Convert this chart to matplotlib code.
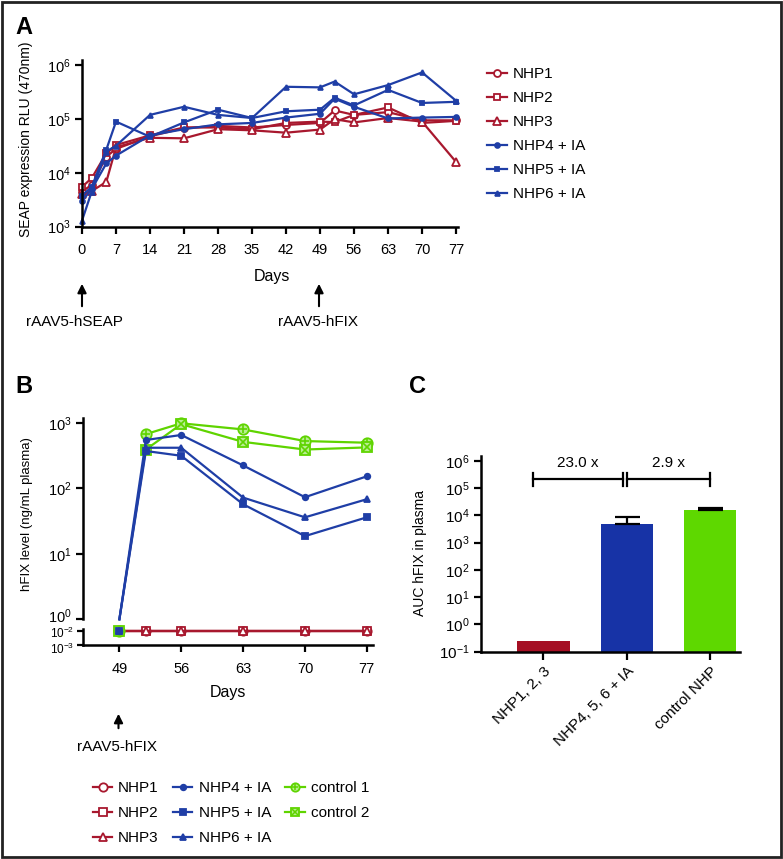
import matplotlib
matplotlib.use('Agg')
import matplotlib.pyplot as plt
import matplotlib.transforms as mtransforms
import numpy as np
from matplotlib.ticker import FixedLocator, NullLocator
from matplotlib.legend_handler import HandlerTuple
from matplotlib.patches import Rectangle

plt.rcParams['font.family'] = ['Liberation Sans', 'DejaVu Sans']
plt.rcParams['mathtext.fontset'] = 'custom'
plt.rcParams['mathtext.rm'] = 'Liberation Sans'
plt.rcParams['mathtext.it'] = 'Liberation Sans'

# ---- data: panel A (SEAP expression, RLU) ----
days_a = [0, 2, 5, 7, 14, 21, 28, 35, 42, 49, 52, 56, 63, 70, 77]
nhp1_a = [4.5e3, 6e3, 2e4, 2.8e4, 4.8e4, 6.8e4, 7.5e4, 7e4, 7.8e4, 8.5e4, 1.45e5, 1.2e5, 1.35e5, 9.5e4, 9.5e4]
nhp2_a = [5.5e3, 8e3, 2.3e4, 3.3e4, 5e4, 7e4, 7e4, 6.5e4, 8.5e4, 9e4, 8.8e4, 1.2e5, 1.65e5, 8.5e4, 9.3e4]
nhp3_a = [4e3, 4.6e3, 6.8e3, 3e4, 4.5e4, 4.4e4, 6.5e4, 6.2e4, 5.6e4, 6.4e4, 1e5, 8.7e4, 1.05e5, 9e4, 1.6e4]
nhp4_a = [3e3, 5e3, 1.5e4, 2.1e4, 5e4, 6.5e4, 8e4, 8.5e4, 1.07e5, 1.26e5, 2.4e5, 1.7e5, 1.03e5, 1.07e5, 1.1e5]
nhp5_a = [3.8e3, 5.5e3, 2.7e4, 9e4, 4.7e4, 8.7e4, 1.5e5, 1.05e5, 1.4e5, 1.5e5, 2.5e5, 1.8e5, 3.5e5, 2e5, 2.1e5]
nhp6_a = [1.3e3, 4.5e3, 2.5e4, 3.2e4, 1.2e5, 1.7e5, 1.2e5, 1.05e5, 4e5, 3.9e5, 5e5, 2.9e5, 4.3e5, 7.4e5, 2.2e5]

# ---- data: panel B (hFIX level, ng/mL) ----
days_b = [49, 52, 56, 63, 70, 77]
nhp1_b = [0.01, 0.01, 0.01, 0.01, 0.01, 0.01]
nhp2_b = [0.01, 0.01, 0.01, 0.01, 0.01, 0.01]
nhp3_b = [0.01, 0.01, 0.01, 0.01, 0.01, 0.01]
nhp4_b = [0.01, 545, 650, 223, 73, 152]
nhp5_b = [0.01, 370, 313, 57, 18.6, 36]
nhp6_b = [0.01, 415, 415, 72, 36, 68]
ctrl1_b = [0.01, 670, 980, 790, 525, 495]
ctrl2_b = [0.01, 390, 950, 510, 390, 420]

# ---- data: panel C (AUC) ----
groups_c = ['NHP1, 2, 3', 'NHP4, 5, 6 + IA', 'control NHP']
auc_c = [0.25, 4.8e3, 1.6e4]
auc_err_c = [0, 4.2e3, 2.5e3]
fold_c = ['23.0 x', '2.9 x']

RED = '#a8182e'
BLUE = '#1f3ea6'
GREEN = '#5fd400'
BAR_RED = '#a50f24'
BAR_BLUE = '#1733a6'
BAR_GREEN = '#5ed800'

W, H = 783, 859
fig = plt.figure(figsize=(W / 100, H / 100), dpi=100)


def box(l, t, r, b):
    return [l / W, 1 - b / H, (r - l) / W, (b - t) / H]


def fp(x, y):
    return (x / W, 1 - y / H)


def style_axes(ax, spines=('left', 'bottom')):
    for s in ['left', 'right', 'top', 'bottom']:
        ax.spines[s].set_visible(s in spines)
        ax.spines[s].set_linewidth(1.8)
    ax.tick_params(width=1.6, length=5, labelsize=10.5, pad=3)
    ax.yaxis.set_minor_locator(NullLocator())
    ax.patch.set_alpha(0)


# ---------------- Panel A ----------------
ax_a = fig.add_axes(box(82, 60, 458, 226.7))
series_a = [
    ('NHP1', nhp1_a, RED, 'o', 'white', 5),
    ('NHP2', nhp2_a, RED, 's', 'white', 5),
    ('NHP3', nhp3_a, RED, '^', 'white', 5.5),
    ('NHP4 + IA', nhp4_a, BLUE, 'o', BLUE, 3.5),
    ('NHP5 + IA', nhp5_a, BLUE, 's', BLUE, 3.5),
    ('NHP6 + IA', nhp6_a, BLUE, '^', BLUE, 3.5),
]
for name, vals, c, m, mfc, ms in series_a:
    ax_a.plot(days_a, vals, color=c, marker=m, mfc=mfc, mec=c, ms=ms, mew=1.3,
              lw=1.6, label=name, clip_on=False)
ax_a.set_yscale('log')
ax_a.set_ylim(1e3, 10 ** 6.1)
ax_a.set_xlim(0, 77.4)
ax_a.set_xticks(range(0, 78, 7))
ax_a.yaxis.set_major_locator(FixedLocator([1e3, 1e4, 1e5, 1e6]))
style_axes(ax_a)
ax_a.tick_params(axis='x', pad=7)
ax_a.legend(loc='upper left', bbox_to_anchor=fp(487, 67), bbox_transform=fig.transFigure,
            frameon=False, fontsize=11, borderpad=0, borderaxespad=0,
            handlelength=1.3, handletextpad=0.4, labelspacing=0.66)
fig.text(*fp(26, 139), 'SEAP expression RLU (470nm)', rotation=90, ha='center', va='center',
         fontsize=10)
fig.text(*fp(272, 277), 'Days', ha='center', va='center', fontsize=11.5)
for xa, xt, lab in [(82, 74, 'rAAV5-hSEAP'), (319, 318, 'rAAV5-hFIX')]:
    fig.add_artist(plt.Annotation('', xy=fp(xa, 281), xytext=fp(xa, 309), xycoords='figure fraction',
                                  arrowprops=dict(arrowstyle='-|>', color='black', lw=1.5,
                                                  mutation_scale=13)))
    fig.text(*fp(xt, 322), lab, ha='center', va='center', fontsize=11)

# ---------------- Panel B ----------------
ax_b = fig.add_axes(box(82.7, 418, 373, 619.3))
ax_b2 = fig.add_axes(box(82.7, 629, 373, 645))
series_b = [
    ('NHP1', nhp1_b, RED, 'o', 'white', 6, False),
    ('NHP2', nhp2_b, RED, 's', 'white', 6, False),
    ('NHP3', nhp3_b, RED, '^', 'white', 6, False),
    ('NHP4 + IA', nhp4_b, BLUE, 'o', BLUE, 4, True),
    ('NHP5 + IA', nhp5_b, BLUE, 's', BLUE, 4, True),
    ('NHP6 + IA', nhp6_b, BLUE, '^', BLUE, 4, True),
    ('control 1', ctrl1_b, GREEN, 'o', '#b8ee90', 7.5, False),
    ('control 2', ctrl2_b, GREEN, 's', '#b8ee90', 7.5, False),
]
floor_b = 1.0
handles_b = {}
draw_order = [0, 1, 2, 6, 7, 3, 4, 5]
for i in draw_order:
    name, vals, c, m, mfc, ms, from_floor = series_b[i]
    d = np.array(days_b, dtype=float)
    v = np.array(vals, dtype=float)
    hi = v >= floor_b
    lo = ~hi
    overlay = {'o': '+', 's': 'x'}.get(m) if name.startswith('control') else None
    # upper part (above the axis break)
    if hi.any():
        if from_floor:
            ax_b.plot(d, np.maximum(v, floor_b), color=c, lw=1.6, clip_on=False)
        else:
            ax_b.plot(d[hi], v[hi], color=c, lw=1.6, clip_on=False)
        ax_b.plot(d[hi], v[hi], ls='none', marker=m, mfc=mfc, mec=c, ms=ms, mew=1.3, clip_on=False)
        if overlay:
            ax_b.plot(d[hi], v[hi], ls='none', marker=overlay, mec=c, ms=ms * 0.8, mew=1.2, clip_on=False)
    # lower part (below the break)
    if lo.any():
        if lo.sum() > 1:
            ax_b2.plot(d[lo], v[lo], color=c, lw=1.6, clip_on=False)
        ax_b2.plot(d[lo], v[lo], ls='none', marker=m, mfc=mfc, mec=c, ms=ms, mew=1.3, clip_on=False)
    h1, = ax_b.plot([], [], color=c, lw=1.6, marker=m, mfc=mfc, mec=c, ms=min(ms, 6), mew=1.3)
    if overlay:
        h2, = ax_b.plot([], [], ls='none', marker=overlay, mec=c, ms=min(ms, 6) * 0.8, mew=1.1)
        handles_b[i] = (h1, h2)
    else:
        handles_b[i] = h1

for ax in (ax_b, ax_b2):
    ax.set_yscale('log')
    ax.set_xlim(44.85, 77.7)
ax_b.set_ylim(1, 10 ** 3.072)
ax_b2.set_ylim(1e-3, 10 ** -1.86)
ax_b.yaxis.set_major_locator(FixedLocator([1, 10, 100, 1000]))
ax_b2.yaxis.set_major_locator(FixedLocator([1e-3, 1e-2]))
style_axes(ax_b, spines=('left',))
style_axes(ax_b2)
ax_b.set_xticks([])
ax_b2.set_xticks(days_b[:1] + list(range(56, 78, 7)))
ax_b2.tick_params(axis='y', labelsize=8.5, length=4, pad=2)
ax_b2.tick_params(axis='x', pad=7)
# nudge the crowded labels around the axis break
fig.canvas.draw()
ax_b.get_yticklabels()[0].set_transform(
    ax_b.get_yticklabels()[0].get_transform() + mtransforms.ScaledTranslation(0, 3 / 72, fig.dpi_scale_trans))
for lbl, dy in zip(ax_b2.get_yticklabels(), [-2, -0.5]):
    lbl.set_transform(lbl.get_transform() + mtransforms.ScaledTranslation(0, dy / 72, fig.dpi_scale_trans))
fig.text(*fp(27, 514), 'hFIX level (ng/mL plasma)', rotation=90, ha='center', va='center',
         fontsize=9.5)
fig.text(*fp(228, 693), 'Days', ha='center', va='center', fontsize=11.5)
fig.add_artist(plt.Annotation('', xy=fp(118.5, 711), xytext=fp(118.5, 731), xycoords='figure fraction',
                              arrowprops=dict(arrowstyle='-|>', color='black', lw=1.5, mutation_scale=13)))
fig.text(*fp(117, 747), 'rAAV5-hFIX', ha='center', va='center', fontsize=11)

fig.legend([handles_b[i] for i in range(8)], [s[0] for s in series_b], ncol=3,
           loc='upper left', bbox_to_anchor=fp(93, 781), bbox_transform=fig.transFigure,
           frameon=False, fontsize=11, borderpad=0, borderaxespad=0,
           handlelength=1.25, handletextpad=0.4, labelspacing=0.72, columnspacing=0.95,
           handler_map={tuple: HandlerTuple(ndivide=1, pad=0)})

# ---------------- Panel C ----------------
ax_c = fig.add_axes(box(481, 456, 740, 651.7))
xc = np.arange(len(groups_c))
ax_c.bar(xc, auc_c, width=0.63, color=[BAR_RED, BAR_BLUE, BAR_GREEN])
has_err = np.array(auc_err_c) > 0
ax_c.errorbar(xc[has_err], np.array(auc_c)[has_err],
              yerr=[np.zeros(has_err.sum()), np.array(auc_err_c)[has_err]],
              fmt='none', ecolor='black', elinewidth=1.6, capthick=1.6, capsize=9)
ax_c.set_yscale('log')
ax_c.set_ylim(0.1, 10 ** 6.18)
ax_c.set_xlim(-0.75, 2.36)
ax_c.yaxis.set_major_locator(FixedLocator([10.0 ** k for k in range(-1, 7)]))
style_axes(ax_c)
ax_c.tick_params(axis='y', labelsize=11)
ax_c.set_xticks(xc)
ax_c.set_xticklabels(groups_c, rotation=45, ha='right', rotation_mode='anchor', fontsize=11)
ax_c.tick_params(axis='x', length=6)
# fold-change brackets
yb, ylo, yhi = 2.2e5, 1.25e5, 3.7e5
for x0, x1, lab in [(-0.125, 0.95, fold_c[0]), (1.0, 2.0, fold_c[1])]:
    ax_c.plot([x0, x1], [yb, yb], color='black', lw=1.6)
    ax_c.plot([x0, x0], [ylo, yhi], color='black', lw=1.6)
    ax_c.plot([x1, x1], [ylo, yhi], color='black', lw=1.6)
    ax_c.text((x0 + x1) / 2, 8.7e5, lab, ha='center', va='center', fontsize=11)
fig.text(*fp(420, 553), 'AUC hFIX in plasma', rotation=90, ha='center', va='center',
         fontsize=10)

# panel letters
for (x, y), letter in [((24, 27), 'A'), ((24, 387), 'B'), ((418, 387), 'C')]:
    fig.text(*fp(x, y), letter, ha='center', va='center', fontsize=17, fontweight='bold')

# outer frame
fig.add_artist(Rectangle((0.002, 0.002), 0.996, 0.996, transform=fig.transFigure,
                         fill=False, lw=2, edgecolor='#222222'))

fig.savefig('out.png', dpi=100)
